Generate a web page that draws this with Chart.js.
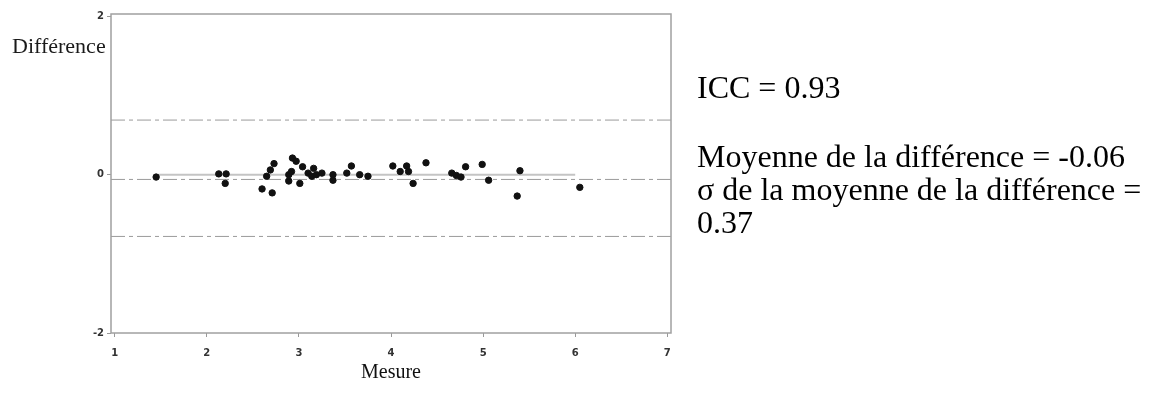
<!DOCTYPE html>
<html>
<head>
<meta charset="utf-8">
<script src="https://cdn.jsdelivr.net/npm/chart.js@4.4.1/dist/chart.umd.min.js"></script>
<style>
  body { margin: 0; background: #fff; }
  #wrap { position: relative; width: 1160px; height: 405px; }
  #chartBox { position: absolute; left: 0; top: 0; width: 1160px; height: 405px; }
  .note { position: absolute; left: 697px; font-family: 'Liberation Serif', serif; font-size: 32px; color: #000; white-space: nowrap; line-height: 33px; }
</style>
</head>
<body>
<div id="wrap">
  <div id="chartBox"><canvas id="bland"></canvas></div>
  <div class="note" style="top:71px">ICC = 0.93</div>
  <div class="note" style="top:140px">Moyenne de la différence = -0.06<br>σ de la moyenne de la différence =<br>0.37</div>
</div>
<script>
// points
const mesure = [1.45, 2.13, 2.21, 2.20, 2.60, 2.71, 2.65, 2.69, 2.73, 2.89, 2.89, 2.92, 2.93, 2.97,
  3.01, 3.04, 3.10, 3.14, 3.16, 3.19, 3.25, 3.37, 3.37, 3.52, 3.57, 3.66, 3.75,
  4.02, 4.10, 4.17, 4.19, 4.24, 4.38, 4.66, 4.71, 4.76, 4.81, 4.99, 5.06, 5.37, 5.40, 6.05]
const difference = [-0.03, 0.01, 0.01, -0.11, -0.18, -0.23, -0.02, 0.06, 0.14, 0.00, -0.08, 0.04, 0.21, 0.17,
  -0.11, 0.10, 0.02, -0.02, 0.08, 0.00, 0.02, 0.00, -0.07, 0.02, 0.11, 0.00, -0.02,
  0.11, 0.04, 0.11, 0.04, -0.11, 0.15, 0.02, -0.01, -0.03, 0.10, 0.13, -0.07, -0.27, 0.05, -0.16]

const xTicks = [1, 2, 3, 4, 5, 6, 7]
const yTicks = [-2, 0, 2]
const xRange = [0.96, 7.04]
const yRange = [-2, 2.03]

const meanDiff = -0.06
const upperLimit = 0.69
const lowerLimit = -0.78
const zeroSpan = [1.47, 6.0]

const points = mesure.map((m, i) => ({ x: m, y: difference[i] }))
const hline = (v) => [{ x: xRange[0], y: v }, { x: xRange[1], y: v }]

const frame = {
  id: 'frame',
  afterDraw(chart) {
    const { ctx, chartArea: a } = chart
    ctx.save()
    ctx.strokeStyle = '#a0a0a0'
    ctx.lineWidth = 1.5
    ctx.strokeRect(a.left, a.top, a.right - a.left, a.bottom - a.top)
    ctx.fillStyle = '#1a1a1a'
    ctx.font = '22px "Liberation Serif"'
    ctx.textBaseline = 'middle'
    ctx.fillText('Différence', 12, 47)
    ctx.restore()
  }
}

const limitStyle = {
  type: 'line',
  borderColor: '#9a9a9a',
  borderWidth: 1,
  borderDash: [14, 4, 4, 4],
  pointRadius: 0,
  order: 2
}

new Chart(document.getElementById('bland'), {
  type: 'scatter',
  data: {
    datasets: [
      {
        data: points,
        backgroundColor: '#111',
        borderColor: '#111',
        pointRadius: 3.2,
        order: 0
      },
      {
        type: 'line',
        data: [{ x: zeroSpan[0], y: 0 }, { x: zeroSpan[1], y: 0 }],
        borderColor: '#c4c4c4',
        borderWidth: 2,
        pointRadius: 0,
        order: 3
      },
      { ...limitStyle, data: hline(meanDiff) },
      { ...limitStyle, data: hline(upperLimit) },
      { ...limitStyle, data: hline(lowerLimit) }
    ]
  },
  options: {
    responsive: true,
    maintainAspectRatio: false,
    animation: false,
    layout: { padding: { top: 14, right: 489, left: 0, bottom: 0 } },
    plugins: { legend: { display: false }, tooltip: { enabled: false } },
    scales: {
      x: {
        type: 'linear',
        min: xRange[0],
        max: xRange[1],
        afterBuildTicks: (s) => { s.ticks = xTicks.map(v => ({ value: v })) },
        afterFit: (s) => { s.height = 72 },
        border: { display: false },
        grid: { drawOnChartArea: false, tickLength: 4, color: '#999' },
        ticks: { color: '#333', padding: 10, font: { family: 'DejaVu Sans', size: 10, weight: 'bold' } },
        title: {
          display: true,
          text: 'Mesure',
          color: '#111',
          padding: { top: 0, bottom: 20 },
          font: { family: 'Liberation Serif', size: 20 }
        }
      },
      y: {
        min: yRange[0],
        max: yRange[1],
        afterBuildTicks: (s) => { s.ticks = yTicks.map(v => ({ value: v })) },
        afterFit: (s) => { s.width = 111 },
        border: { display: false },
        grid: { drawOnChartArea: false, tickLength: 4, color: '#999' },
        ticks: { color: '#333', padding: 3, font: { family: 'DejaVu Sans', size: 10, weight: 'bold' } }
      }
    }
  },
  plugins: [frame]
});
</script>
</body>
</html>
